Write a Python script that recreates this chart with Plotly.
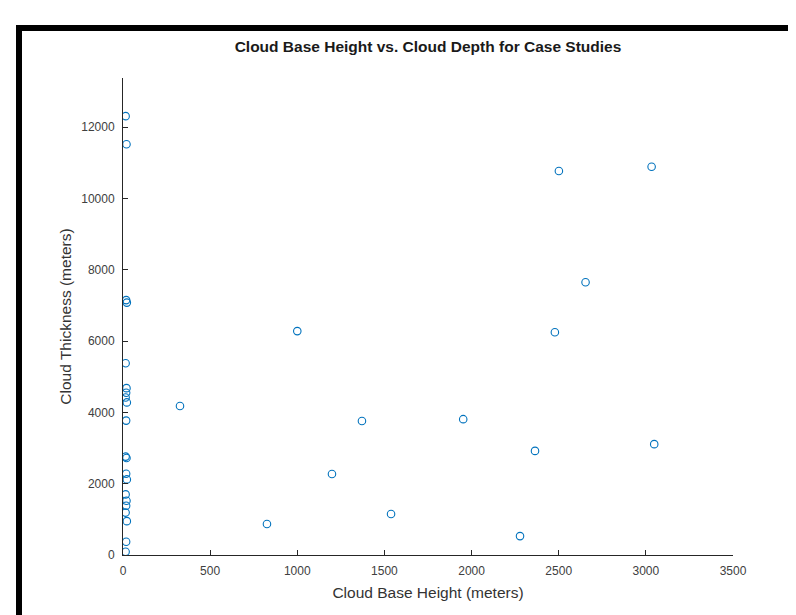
import plotly.graph_objects as go

# Cloud base height (m) and cloud thickness (m) for each case study
base_height = [15, 20, 18, 22, 15, 20, 18, 15, 22, 18, 15, 20, 18, 22, 15, 20, 18, 15, 22, 18, 15,
               327, 1000, 826, 1199, 1371, 1538, 1952, 2364, 2278, 3048, 2501, 3033, 2654, 2478]
thickness = [12310, 11520, 7150, 7080, 5380, 4680, 4550, 4420, 4280, 3770, 2760, 2720, 2280, 2120,
             1700, 1520, 1380, 1190, 950, 370, 90,
             4180, 6280, 870, 2270, 3760, 1150, 3810, 2920, 530, 3110, 10770, 10890, 7650, 6250]

x_ticks = [0, 500, 1000, 1500, 2000, 2500, 3000, 3500]
y_ticks = [0, 2000, 4000, 6000, 8000, 10000, 12000]

title_text = "Cloud Base Height vs. Cloud Depth for Case Studies"
x_label = "Cloud Base Height (meters)"
y_label = "Cloud Thickness (meters)"

# the page body adds an 8px offset; the figure is sized to compensate
OFF = 8
W, H = 796 - OFF, 615 - OFF
PL, PT, PW, PH = 123, 78, 610, 477  # plot area in screenshot pixels

fig = go.Figure()
fig.add_trace(go.Scatter(
    x=base_height, y=thickness, mode="markers",
    marker=dict(symbol="circle-open", size=7.5, color="#0072BD", line=dict(width=1.1, color="#0072BD")),
    showlegend=False,
))

font_family = "Liberation Sans, Arial, Helvetica, sans-serif"

fig.update_layout(
    width=W, height=H,
    margin=dict(l=PL - OFF, r=796 - PL - PW, t=PT - OFF, b=615 - PT - PH),
    paper_bgcolor="white", plot_bgcolor="white",
    font=dict(family=font_family, color="#404040", size=13),
    title=dict(text="<b>" + title_text + "</b>", x=(PL + PW / 2 - OFF) / W, xanchor="center",
               y=1 - (47 - OFF) / H, yanchor="middle",
               font=dict(size=15.5, color="#1a1a1a", family=font_family)),
)

fig.update_xaxes(
    range=[0, 3500], tickvals=x_ticks, ticktext=[str(v) for v in x_ticks],
    ticks="inside", ticklen=5, tickcolor="#262626", tickwidth=1,
    showline=True, linecolor="#262626", linewidth=1, mirror=False,
    showgrid=False, zeroline=False, ticklabelstandoff=5,
    tickfont=dict(size=12, color="#404040"),
    title=dict(text=x_label, font=dict(size=15.5, color="#333333"), standoff=9),
)
fig.update_yaxes(
    range=[0, 13380], tickvals=y_ticks, ticktext=[str(v) for v in y_ticks],
    ticks="inside", ticklen=5, tickcolor="#262626", tickwidth=1,
    showline=True, linecolor="#262626", linewidth=1, mirror=False,
    showgrid=False, zeroline=False, ticklabelstandoff=5,
    tickfont=dict(size=12, color="#404040"),
    title=dict(text=y_label, font=dict(size=15.5, color="#333333"), standoff=5),
)

# outer black frame (extends past right and bottom edges of the image)
def px_to_paper_x(px):
    return (px - PL) / PW

def px_to_paper_y(py):
    return (PT + PH - py) / PH

fig.add_shape(type="rect", xref="paper", yref="paper",
              x0=px_to_paper_x(19), x1=px_to_paper_x(840),
              y0=px_to_paper_y(660), y1=px_to_paper_y(28),
              line=dict(color="black", width=6), fillcolor="rgba(0,0,0,0)", layer="above")

fig.write_html("out.html")
